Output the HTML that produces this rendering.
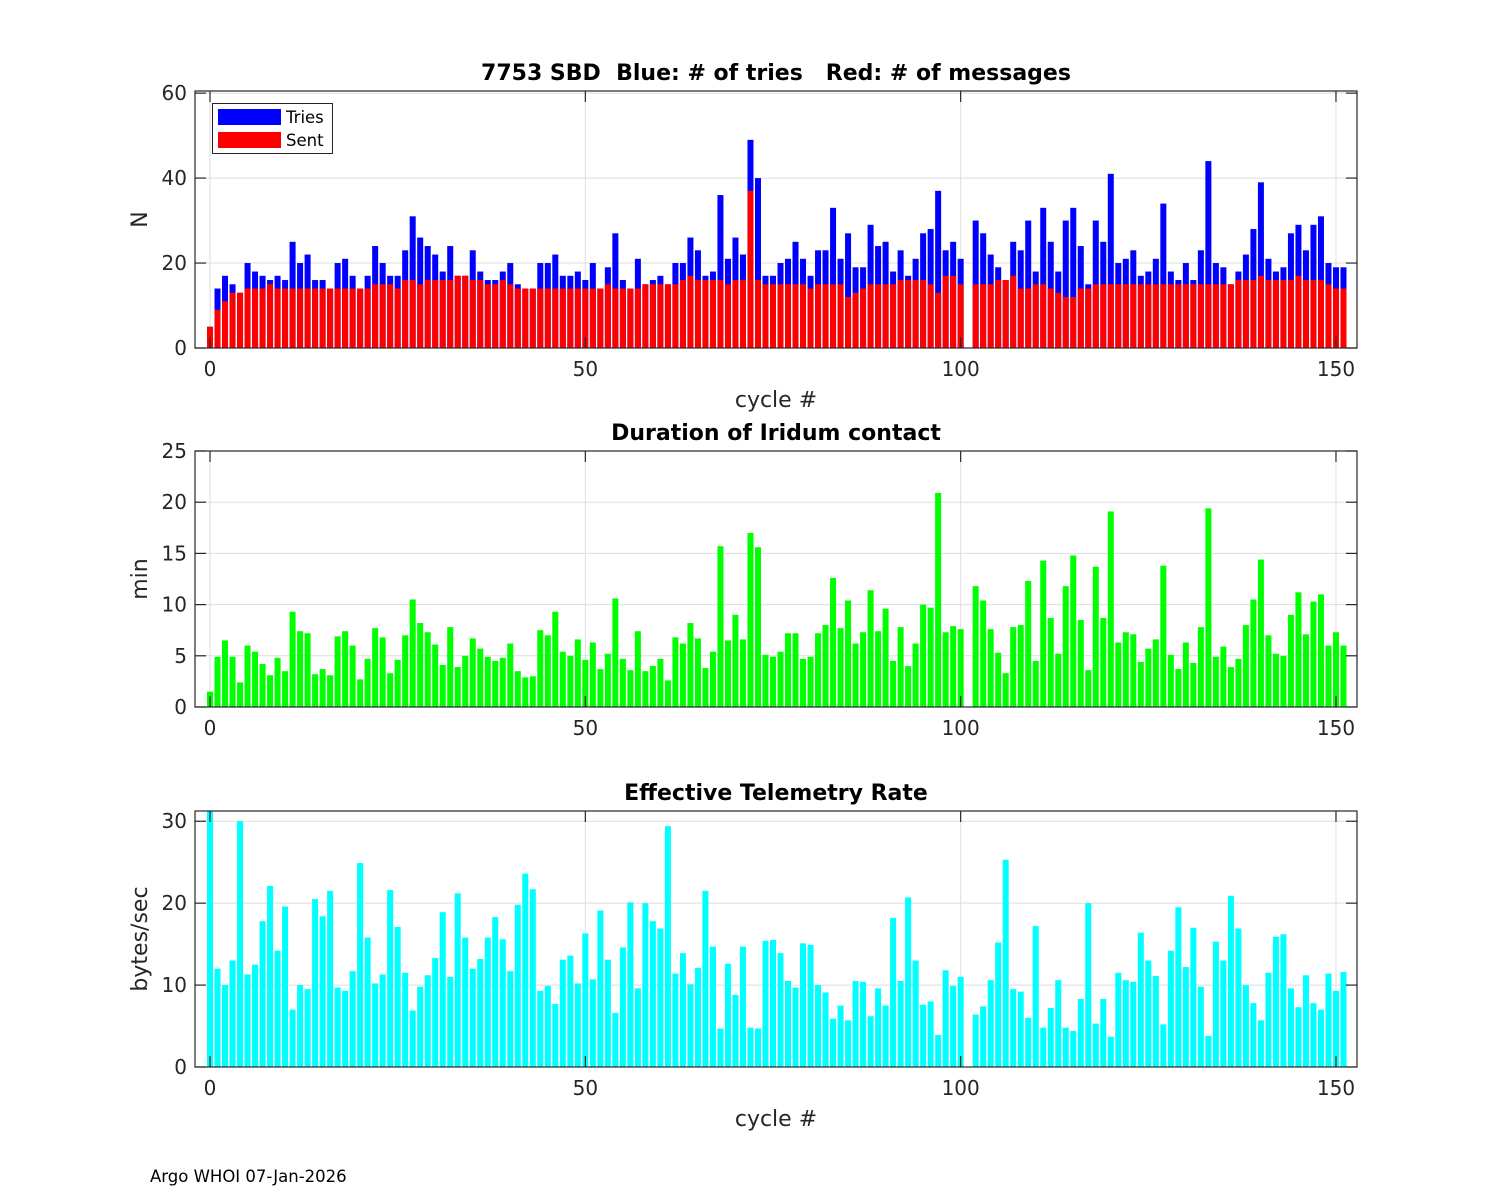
<!DOCTYPE html>
<html><head><meta charset="utf-8"><style>
html,body{margin:0;padding:0;background:#fff;}
svg{display:block;font-family:"DejaVu Sans","Liberation Sans",sans-serif;}
text{white-space:pre;}
</style></head><body>
<svg id="fig" width="1500" height="1200" viewBox="0 0 1500 1200">
<text x="150" y="1182" font-size="16.5" fill="#000">Argo WHOI 07-Jan-2026</text>
</svg>
<script>
const cycles = Array.from({length:152},(_,i)=>i);
const tries = [5,14,17,15,13,20,18,17,16,17,16,25,20,22,16,16,14,20,21,17,14,17,24,20,17,17,23,31,26,24,22,18,24,17,17,23,18,16,16,18,20,15,14,14,20,20,22,17,17,18,16,20,14,19,27,16,14,21,15,16,17,15,20,20,26,23,17,18,36,21,26,22,49,40,17,17,20,21,25,21,17,23,23,33,21,27,19,19,29,24,25,18,23,17,21,27,28,37,23,25,21,0,30,27,22,19,16,25,23,30,18,33,25,18,30,33,24,15,30,25,41,20,21,23,17,18,21,34,18,16,20,16,23,44,20,19,15,18,22,28,39,21,18,19,27,29,23,29,31,20,19,19];
const sent = [5,9,11,13,13,14,14,14,15,14,14,14,14,14,14,14,14,14,14,14,14,14,15,15,15,14,16,16,15,16,16,16,16,17,17,16,16,15,15,16,15,14,14,14,14,14,14,14,14,14,14,14,14,15,14,14,14,14,15,15,15,15,15,16,17,16,16,16,16,15,16,16,37,16,15,15,15,15,15,15,14,15,15,15,15,12,13,14,15,15,15,15,16,16,16,16,15,13,17,17,15,0,15,15,15,16,16,17,14,14,15,15,14,13,12,12,14,14,15,15,15,15,15,15,15,15,15,15,15,15,15,15,15,15,15,15,15,16,16,16,17,16,16,16,16,17,16,16,16,15,14,14];
const duration = [1.5,4.9,6.5,4.9,2.4,6,5.4,4.2,3.1,4.8,3.5,9.3,7.4,7.2,3.2,3.7,3.1,6.9,7.4,6,2.7,4.7,7.7,6.8,3.3,4.6,7,10.5,8.2,7.3,6.1,4.1,7.8,3.9,5,6.7,5.7,4.9,4.5,4.8,6.2,3.5,2.9,3,7.5,7,9.3,5.4,5,6.6,4.6,6.3,3.7,5.2,10.6,4.7,3.6,7.4,3.5,4,4.7,2.6,6.8,6.2,8.2,6.7,3.8,5.4,15.7,6.5,9,6.6,17,15.6,5.1,4.9,5.4,7.2,7.2,4.7,4.9,7.2,8,12.6,7.7,10.4,6.2,7.3,11.4,7.4,9.6,4.5,7.8,4,6.2,10,9.7,20.9,7.3,7.9,7.6,0,11.8,10.4,7.6,5.3,3.3,7.8,8,12.3,4.5,14.3,8.7,5.2,11.8,14.8,8.5,3.6,13.7,8.7,19.1,6.3,7.3,7.1,4.4,5.7,6.6,13.8,5.1,3.7,6.3,4.3,7.8,19.4,4.9,5.9,3.9,4.7,8,10.5,14.4,7,5.2,5,9,11.2,7.1,10.3,11,6,7.3,6];
const rate = [31.3,12,10,13,30,11.3,12.5,17.8,22.1,14.2,19.6,7,10,9.5,20.5,18.4,21.5,9.7,9.3,11.7,24.9,15.8,10.2,11.3,21.6,17.1,11.5,6.9,9.8,11.2,13.3,18.9,11,21.2,15.8,12,13.2,15.8,18.3,15.6,11.7,19.8,23.6,21.7,9.3,9.9,7.7,13.1,13.6,10.2,16.3,10.7,19.1,13.1,6.6,14.6,20.1,9.6,20,17.8,16.9,29.4,11.4,13.9,10.1,12.1,21.5,14.7,4.7,12.6,8.8,14.7,4.8,4.7,15.4,15.5,13.9,10.5,9.7,15.1,14.9,10,9.1,5.9,7.5,5.7,10.5,10.4,6.2,9.6,7.5,18.2,10.5,20.7,13,7.6,8,3.9,11.8,9.9,11,0,6.4,7.4,10.6,15.2,25.3,9.5,9.2,6,17.2,4.8,7.2,10.6,4.8,4.4,8.3,20,5.3,8.3,3.7,11.5,10.6,10.4,16.4,13,11.1,5.2,14.2,19.5,12.2,17,9.8,3.8,15.3,13,20.9,16.9,10,7.8,5.7,11.5,15.9,16.2,9.6,7.3,11.2,7.8,7,11.4,9.3,11.6];
const xTicks = [0,50,100,150];
const yTicks1 = [0,20,40,60];
const yTicks2 = [0,5,10,15,20,25];
const yTicks3 = [0,10,20,30];

const NS='http://www.w3.org/2000/svg';
const svg=document.getElementById('fig');
function el(tag,attrs,parent){const e=document.createElementNS(NS,tag);for(const k in attrs)e.setAttribute(k,attrs[k]);(parent||svg).appendChild(e);return e;}
const L=195,R=1357,XMIN=-2,XMAX=152.8;
const xs=v=>L+(v-XMIN)/(XMAX-XMIN)*(R-L);
const bw=0.8*(R-L)/(XMAX-XMIN);

function panel(name,top,bot,ymax,yticks,series,title,ylabel,xlabel){
  const g=el('g',{});
  
  
  const ys=v=>bot-v/ymax*(bot-top);
  el('rect',{x:L,y:top,width:R-L,height:bot-top,fill:'#fff'},g);
  xTicks.forEach(t=>{const l=el('line',{x1:xs(t),x2:xs(t),y1:top,y2:bot,stroke:'#dedede','stroke-width':1},g);});
  yticks.forEach(t=>{const l=el('line',{x1:L,x2:R,y1:ys(t),y2:ys(t),stroke:'#dedede','stroke-width':1},g);});
  series.forEach(s=>{
    cycles.forEach((c,i)=>{const v=s.data[i];if(!(v>0))return;
      const r=el('rect',{x:xs(c)-bw/2,y:ys(v),width:bw,height:ys(0)-ys(v),fill:s.color},g);
      
      
    });
  });
  const fr=el('rect',{x:L,y:top,width:R-L,height:bot-top,fill:'none',stroke:'#262626','stroke-width':1.2},g);
  
  xTicks.forEach(t=>{const x=xs(t);
    el('line',{x1:x,x2:x,y1:bot,y2:bot-11,stroke:'#262626','stroke-width':1.2},g);
    el('line',{x1:x,x2:x,y1:top,y2:top+11,stroke:'#262626','stroke-width':1.2},g);
    const tx=el('text',{x:x,y:bot+28,'font-size':20,'text-anchor':'middle',fill:'#262626'},g);tx.textContent=t;
    });
  yticks.forEach(t=>{const y=ys(t);
    el('line',{x1:L,x2:L+11,y1:y,y2:y,stroke:'#262626','stroke-width':1.2},g);
    el('line',{x1:R,x2:R-11,y1:y,y2:y,stroke:'#262626','stroke-width':1.2},g);
    const tx=el('text',{x:L-8,y:y+7,'font-size':20,'text-anchor':'end',fill:'#262626'},g);tx.textContent=t;
    });
  const ti=el('text',{x:(L+R)/2,y:top-11,'font-size':22,'font-weight':'bold','text-anchor':'middle',fill:'#000','xml:space':'preserve'},g);ti.textContent=title;
  
  const yl=el('text',{x:0,y:0,'font-size':22,'text-anchor':'middle',fill:'#262626',transform:`translate(147,${(top+bot)/2}) rotate(-90)`},g);yl.textContent=ylabel;
  
  if(xlabel){const xl=el('text',{x:(L+R)/2,y:bot+59,'font-size':22,'text-anchor':'middle',fill:'#262626'},g);xl.textContent=xlabel;
    }
  return g;
}
panel('tries-panel',91,348,60.5,yTicks1,[{data:tries,color:'#0000ff',name:'tries'},{data:sent,color:'#ff0000',name:'sent'}],'7753 SBD  Blue: # of tries   Red: # of messages','N','cycle #');
panel('duration-panel',451,707,25,yTicks2,[{data:duration,color:'#00ff00',name:'duration'}],'Duration of Iridum contact','min',null);
panel('rate-panel',811,1067,31.25,yTicks3,[{data:rate,color:'#00ffff',name:'rate'}],'Effective Telemetry Rate','bytes/sec','cycle #');

const lg=el('g',{});


el('rect',{x:212.5,y:103.5,width:120,height:50,fill:'#fff',stroke:'#262626','stroke-width':1},lg);
el('rect',{x:218,y:109,width:63,height:16,fill:'#0000ff'},lg);
el('rect',{x:218,y:132,width:63,height:16,fill:'#ff0000'},lg);
const t1=el('text',{x:286,y:123,'font-size':16.5,fill:'#000'},lg);t1.textContent='Tries';

const t2=el('text',{x:286,y:146,'font-size':16.5,fill:'#000'},lg);t2.textContent='Sent';

</script>
</body></html>
